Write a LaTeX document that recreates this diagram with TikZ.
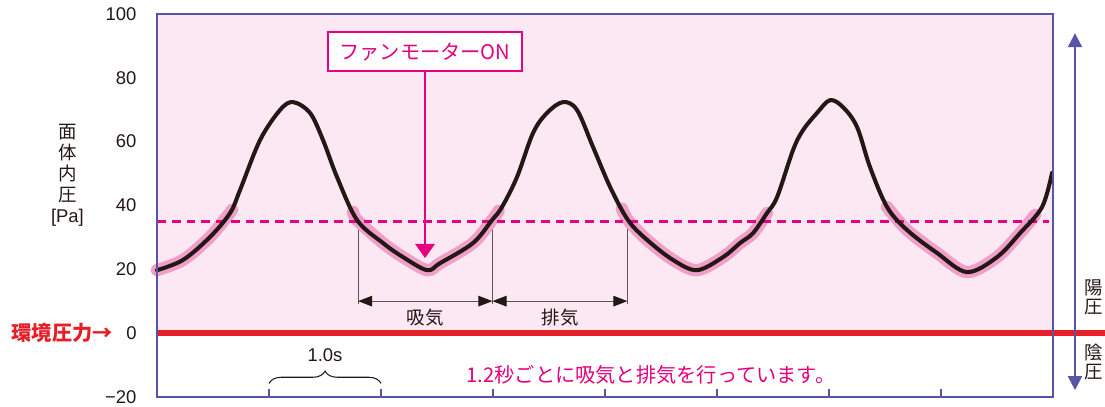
\documentclass[tikz,border=0pt]{standalone}
\usepackage{fontspec}
\setmainfont{Liberation Sans}
\newfontfamily\jp{Noto Sans CJK JP}
\usetikzlibrary{arrows.meta, decorations.pathreplacing}

\definecolor{framecol}{RGB}{88,86,164}
\definecolor{fanpink}{RGB}{228,0,127}
\definecolor{bgpink}{RGB}{252,232,242}
\definecolor{hlpink}{RGB}{240,160,200}
\definecolor{envred}{RGB}{230,30,40}
\definecolor{inkgray}{RGB}{35,24,21}
\definecolor{dimgray}{RGB}{90,86,86}

\begin{document}
\begin{tikzpicture}[x=2.24cm, y=0.0638cm,
	every node/.style={text=inkgray, font=\fontsize{10.5}{12}\selectfont},
	jptext/.style={font=\jp\fontsize{10.5}{12}\selectfont},
	tick/.style={anchor=east, inner sep=0pt},
	curve/.style={line width=2.3pt, inkgray, line join=round, line cap=round},
	glow/.style={line width=7pt, hlpink, line join=round, line cap=round},
	dimline/.style={dimgray, line width=0.6pt},
	dimarrow/.style={dimline, {Triangle[length=8pt,width=6pt,color=inkgray]}-{Triangle[length=8pt,width=6pt,color=inkgray]}},
	pressarrow/.style={framecol, line width=1.2pt, {Triangle[length=8pt,width=8pt]}-{Triangle[length=8pt,width=8pt]}}]
	\useasboundingbox (-1.402,-22.9) rectangle (8.464,104.4);
	
	% -- Background (above ambient pressure) --
	\fill[bgpink] (0,0) rectangle (8,100);
	
	% -- Threshold and breath phases --
	\coordinate (t0) at (1.795,10);
	\coordinate (t1) at (2.995,10);
	\coordinate (t2) at (4.2,10);
	\foreach \x in {1.795, 2.995, 4.2} {
		\draw[dimline] (\x,35) -- (\x,9);
	}
	\draw[dimarrow] (t0) -- (t1);
	\draw[dimarrow] (t1) -- (t2);
	\node[jptext] (inhale) at (2.395,4.7) {吸気};
	\node[jptext] (exhale) at (3.6,4.7) {排気};
	
	% -- Low-pressure parts of the curve --
	\draw[glow] plot[smooth] coordinates {(0,19.7) (0.232,22.9) (0.473,30.1) (0.67,38.6)};
	\draw[glow] plot[smooth] coordinates {(1.75,38) (1.786,35.4) (2.018,28.2) (2.196,23.8) (2.411,19.7) (2.527,21.9) (2.821,28.2) (2.991,35.4) (3.05,38.3)};
	\draw[glow] plot[smooth] coordinates {(4.15,39) (4.205,35.4) (4.375,29.2) (4.607,22.9) (4.821,19.7) (5.054,23.8) (5.205,28.2) (5.321,31.3) (5.446,37.6)};
	\draw[glow] plot[smooth] coordinates {(6.518,39.5) (6.696,32.3) (6.964,25.1) (7.232,19.1) (7.5,23.8) (7.705,31.3) (7.84,37)};
	
	\draw[fanpink, line width=1.3pt, dash pattern=on 5pt off 3.4pt] (0,35) -- (7.96,35);
	
	% -- Mask pressure --
	\draw[curve] plot[smooth, tension=0.55] coordinates {
		(0,19.7) (0.232,22.9) (0.473,30.1) (0.652,37.6) (0.741,44.8) (0.920,60.5)
		(1.098,69.9) (1.214,72.4) (1.366,69.0) (1.482,60.5) (1.607,48.9) (1.786,35.4)
		(2.018,28.2) (2.196,23.8) (2.411,19.7) (2.527,21.9) (2.821,28.2) (2.991,35.4)
		(3.080,39.5) (3.214,48.9) (3.357,62.7) (3.482,69.0) (3.625,72.4) (3.750,69.9)
		(3.893,58.3) (4.045,45.8) (4.205,35.4) (4.375,29.2) (4.607,22.9) (4.821,19.7)
		(5.054,23.8) (5.205,28.2) (5.321,31.3) (5.446,37.6) (5.536,42.6) (5.679,57.4)
		(5.768,63.6) (5.893,69.0) (6.009,73.0) (6.125,70.8) (6.25,64.6) (6.366,52.0)
		(6.518,39.5) (6.696,32.3) (6.964,25.1) (7.232,19.1) (7.5,23.8) (7.705,31.3)
		(7.902,39.5) (7.991,50.2)};
	
	% -- Fan motor marker --
	\node[draw=fanpink, fill=white, line width=1.1pt, text=fanpink, minimum width=3.88cm, minimum height=0.78cm, font=\jp\fontsize{11.5}{13}\selectfont] (fanbox) at (2.393,88.2) {ファンモーターON};
	\coordinate (fantip) at (2.393,23.5);
	\draw[fanpink, line width=1.1pt, -{Triangle[length=8pt,width=11pt]}] (fanbox) -- (fantip);
	
	% -- Ambient pressure and frame --
	\draw[envred, line width=3.4pt] (0,0) -- (8.607,0);
	\draw[framecol, line width=0.9pt] (0,-20) rectangle (8,100);
	\foreach \t in {1,...,7} {
		\draw[framecol, line width=0.8pt] (\t,-20) -- (\t,-17.4);
	}
	
	% -- Axis labels --
	\foreach \v in {0,20,...,100} {
		\node[tick] (ylab\v) at (-0.18,\v) {\v};
	}
	\node[tick] (ylabneg) at (-0.18,-20) {−20};
	\node[align=center, font=\jp\fontsize{10.5}{11.9}\selectfont] (ytitle) at (-0.80,49.5) {面\\体\\内\\圧\\{\rmfamily [Pa]}};
	\node[anchor=east, inner sep=0pt, text=envred, font=\jp\bfseries\fontsize{11.5}{13}\selectfont] (envlabel) at (-0.393,0) {環境圧力→};
	
	% -- Timing notes --
	\node (secnote) at (1.5,-6.9) {1.0s};
	\draw[inkgray, line width=0.6pt, decorate, decoration={brace, amplitude=7pt}] (1,-15.8) -- (2,-15.8);
	\node[text=fanpink, font=\jp\fontsize{11.5}{14}\selectfont] (note) at (4.41,-13.2) {1.2秒ごとに吸気と排気を行っています。};
	
	% -- Positive / negative pressure --
	\coordinate (posend) at (8.196,94);
	\coordinate (negend) at (8.196,-17.9);
	\draw[pressarrow] (negend) -- (posend);
	\node[align=center, inner sep=0pt, font=\jp\fontsize{10.5}{10.8}\selectfont] (poslab) at (8.366,11.3) {陽\\圧};
	\node[align=center, inner sep=0pt, font=\jp\fontsize{10.5}{10.8}\selectfont] (neglab) at (8.366,-9.1) {陰\\圧};
\end{tikzpicture}
\end{document}
